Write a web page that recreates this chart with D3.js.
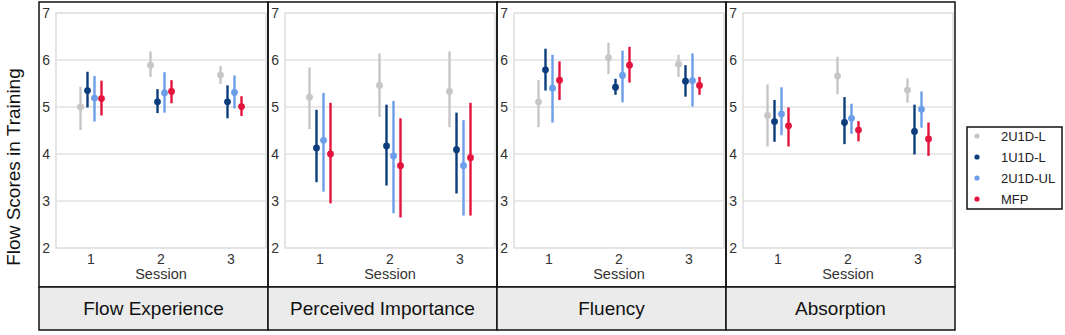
<!DOCTYPE html>
<html>
<head>
<meta charset="utf-8">
<script src="https://cdn.jsdelivr.net/npm/d3@7"></script>
<style>
  body { margin: 0; background: #fff; }
  svg { font-family: "Liberation Sans", Arial, sans-serif; }
</style>
</head>
<body>
<div id="chart"></div>
<script>
// facets, sessions, groups
const facets = ["Flow Experience", "Perceived Importance", "Fluency", "Absorption"];
const sessions = ["1", "2", "3"];
const groups = ["2U1D-L", "1U1D-L", "2U1D-UL", "MFP"];
const groupColors = ["#c6c6c6", "#0b3d7c", "#6b9de8", "#e3133b"];
const yTicks = [2, 3, 4, 5, 6, 7];

// values are [group][session]
const flowMean = [[5.00, 5.89, 5.68], [5.35, 5.11, 5.11], [5.19, 5.30, 5.31], [5.18, 5.33, 5.01]];
const flowLo   = [[4.51, 5.64, 5.49], [4.99, 4.87, 4.76], [4.69, 4.88, 4.97], [4.82, 5.08, 4.81]];
const flowHi   = [[5.43, 6.18, 5.87], [5.75, 5.38, 5.46], [5.66, 5.74, 5.67], [5.56, 5.57, 5.23]];

const impMean = [[5.21, 5.46, 5.33], [4.13, 4.17, 4.09], [4.29, 3.96, 3.75], [4.00, 3.75, 3.92]];
const impLo   = [[4.53, 4.79, 4.57], [3.40, 3.33, 3.16], [3.20, 2.74, 2.69], [2.95, 2.65, 2.69]];
const impHi   = [[5.84, 6.14, 6.18], [4.94, 5.05, 4.88], [5.30, 5.13, 4.72], [5.09, 4.76, 5.09]];

const fluMean = [[5.11, 6.05, 5.91], [5.79, 5.42, 5.55], [5.40, 5.67, 5.56], [5.57, 5.89, 5.46]];
const fluLo   = [[4.57, 5.70, 5.64], [5.35, 5.26, 5.22], [4.67, 5.10, 5.01], [5.15, 5.52, 5.26]];
const fluHi   = [[5.57, 6.37, 6.11], [6.24, 5.60, 5.89], [6.11, 6.20, 6.14], [5.97, 6.28, 5.64]];

const absMean = [[4.82, 5.66, 5.36], [4.69, 4.67, 4.48], [4.85, 4.76, 4.95], [4.60, 4.51, 4.32]];
const absLo   = [[4.16, 5.27, 5.09], [4.26, 4.21, 3.99], [4.40, 4.43, 4.56], [4.16, 4.27, 3.96]];
const absHi   = [[5.48, 6.07, 5.61], [5.15, 5.21, 5.05], [5.42, 5.07, 5.33], [4.99, 4.70, 4.67]];

const means = [flowMean, impMean, fluMean, absMean];
const lows = [flowLo, impLo, fluLo, absLo];
const highs = [flowHi, impHi, fluHi, absHi];

var width = 1065, height = 335;
var panelLeft = 39, panelW = 229, panelTop = 2, panelBottom = 287, stripBottom = 330;
var plotPadL = 17, plotW = 210;

var svg = d3.select("#chart").append("svg")
    .attr("width", width)
    .attr("height", height);

var y = d3.scaleLinear().domain([2, 7]).range([248, 13]);

var x = d3.scaleBand().domain(sessions).range([0, plotW]);
var xInner = d3.scaleBand().domain(groups).range([-14, 14]);

facets.forEach(function(facet, fi) {
    var px = panelLeft + fi * panelW;
    var g = svg.append("g").attr("transform", "translate(" + (px + plotPadL) + ",0)");

    // plot background frame and grid
    g.append("rect")
        .attr("x", 0).attr("y", y(7))
        .attr("width", plotW).attr("height", y(2) - y(7))
        .attr("fill", "none")
        .attr("stroke", "#dddddd")
        .attr("stroke-width", 1.5);

    g.selectAll(".grid")
        .data(yTicks.slice(1, -1))
        .join("line")
        .attr("x1", 0).attr("x2", plotW)
        .attr("y1", d => y(d)).attr("y2", d => y(d))
        .attr("stroke", "#e2e2e2")
        .attr("stroke-width", 1.5);

    // y tick labels
    g.selectAll(".ytick")
        .data(yTicks)
        .join("text")
        .attr("x", -6)
        .attr("y", d => y(d))
        .attr("dy", "0.35em")
        .attr("text-anchor", "end")
        .attr("font-size", 14)
        .attr("fill", "#333")
        .text(d => d);

    // x tick labels
    g.selectAll(".xtick")
        .data(sessions)
        .join("text")
        .attr("x", d => x(d) + x.bandwidth() / 2)
        .attr("y", 264)
        .attr("text-anchor", "middle")
        .attr("font-size", 14)
        .attr("fill", "#333")
        .text(d => d);

    g.append("text")
        .attr("x", plotW / 2)
        .attr("y", 279)
        .attr("text-anchor", "middle")
        .attr("font-size", 14.5)
        .attr("fill", "#333")
        .text("Session");

    // error bars and points
    var rows = [];
    groups.forEach(function(grp, gi) {
        sessions.forEach(function(s, si) {
            rows.push({
                group: grp, session: s, color: groupColors[gi],
                mean: means[fi][gi][si], lo: lows[fi][gi][si], hi: highs[fi][gi][si]
            });
        });
    });

    var cx = d => x(d.session) + x.bandwidth() / 2 + xInner(d.group) + xInner.bandwidth() / 2;

    g.selectAll(".bar")
        .data(rows)
        .join("line")
        .attr("x1", cx).attr("x2", cx)
        .attr("y1", d => y(d.lo)).attr("y2", d => y(d.hi))
        .attr("stroke", d => d.color)
        .attr("stroke-width", 2.4);

    g.selectAll(".pt")
        .data(rows)
        .join("circle")
        .attr("cx", cx)
        .attr("cy", d => y(d.mean))
        .attr("r", 3.4)
        .attr("fill", d => d.color);

    // panel border
    svg.append("rect")
        .attr("x", px).attr("y", panelTop)
        .attr("width", panelW).attr("height", panelBottom - panelTop)
        .attr("fill", "none")
        .attr("stroke", "#111")
        .attr("stroke-width", 1.5);

    // strip
    svg.append("rect")
        .attr("x", px).attr("y", panelBottom)
        .attr("width", panelW).attr("height", stripBottom - panelBottom)
        .attr("fill", "#ebebeb")
        .attr("stroke", "#111")
        .attr("stroke-width", 1.5);

    svg.append("text")
        .attr("x", px + panelW / 2)
        .attr("y", (panelBottom + stripBottom) / 2)
        .attr("dy", "0.35em")
        .attr("text-anchor", "middle")
        .attr("font-size", 19)
        .attr("fill", "#111")
        .text(facet);
});

// y axis title
svg.append("text")
    .attr("transform", "translate(20,167) rotate(-90)")
    .attr("text-anchor", "middle")
    .attr("font-size", 19)
    .attr("fill", "#111")
    .text("Flow Scores in Training");

// legend
var legend = svg.append("g").attr("transform", "translate(967,127)");
legend.append("rect")
    .attr("width", 95).attr("height", 82)
    .attr("fill", "#fff")
    .attr("stroke", "#111")
    .attr("stroke-width", 1.5);

legend.selectAll(".item")
    .data(groups)
    .join("g")
    .attr("transform", (d, i) => "translate(0," + (9 + i * 21) + ")")
    .each(function(d, i) {
        var it = d3.select(this);
        it.append("circle").attr("cx", 10).attr("cy", 0).attr("r", 2.6).attr("fill", groupColors[i]);
        it.append("text").attr("x", 34).attr("y", 0).attr("dy", "0.35em")
            .attr("font-size", 13).attr("fill", "#222").text(d);
    });
</script>
</body>
</html>
